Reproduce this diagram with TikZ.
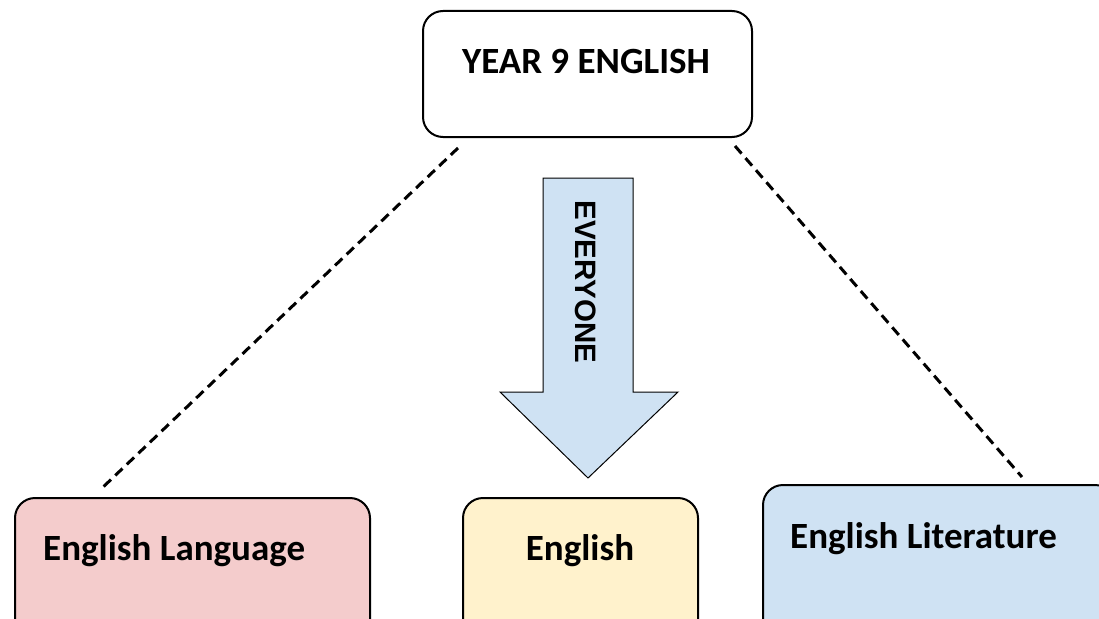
\documentclass[tikz,border=0pt]{standalone}
\usepackage{fontspec}
\setmainfont{Carlito}
\newfontfamily\arrowfont{Liberation Sans}
\usepackage{xcolor}
\usepackage{tikz}
\usetikzlibrary{calc}

\definecolor{langpink}{HTML}{F4CCCC}
\definecolor{engyellow}{HTML}{FFF2CC}
\definecolor{litblue}{HTML}{CFE2F3}

\begin{document}
\begin{tikzpicture}[x=1pt, y=-1pt,
		subjbox/.style={draw, line width=2pt, rounded corners=20pt, inner sep=0pt},
		subjtext/.style={font=\fontsize{37}{44}\selectfont\bfseries, inner sep=0pt},
		link/.style={line width=3pt, dash pattern=on 10pt off 6pt}]
		\useasboundingbox (0, 0) rectangle (1099, 618);
		\clip (0, 0) rectangle (1099, 618);

		\node[subjbox, minimum width=329pt, minimum height=126pt] (year) at (587.5, 74) {};
		\node[subjbox, fill=langpink, minimum width=355pt, minimum height=152pt] (lang) at (192.5, 574) {};
		\node[subjbox, fill=engyellow, minimum width=235pt, minimum height=152pt] (eng) at (580.5, 574) {};
		\node[subjbox, fill=litblue, minimum width=352pt, minimum height=165pt] (lit) at (939, 567.5) {};

		\node[subjtext, anchor=base] (yeartext) at (586, 73) {YEAR 9 ENGLISH};
		\node[subjtext, anchor=base west] (langtext) at (43, 560) {English Language};
		\node[subjtext, anchor=base] (engtext) at (580, 560) {English};
		\node[subjtext, anchor=base west] (littext) at (790, 548) {English Literature};

		\draw[line width=1pt, fill=litblue]
			(543, 178) -- (633, 178) -- (633, 392) -- (678, 392)
			-- (588, 478) -- (500, 392) -- (543, 392) -- cycle;
		\node[rotate=-90, inner sep=0pt, font=\arrowfont\fontsize{29.5}{34}\selectfont\bfseries] (everyone) at (586, 282) {EVERYONE};

		\coordinate (langtop) at (100, 490);
		\coordinate (littop) at (1022, 477);
		\coordinate (yearleft) at (458, 148);
		\coordinate (yearright) at (735, 146);
		\draw[link] (yearleft) -- (langtop);
		\draw[link] (yearright) -- (littop);
	\end{tikzpicture}
\end{document}
